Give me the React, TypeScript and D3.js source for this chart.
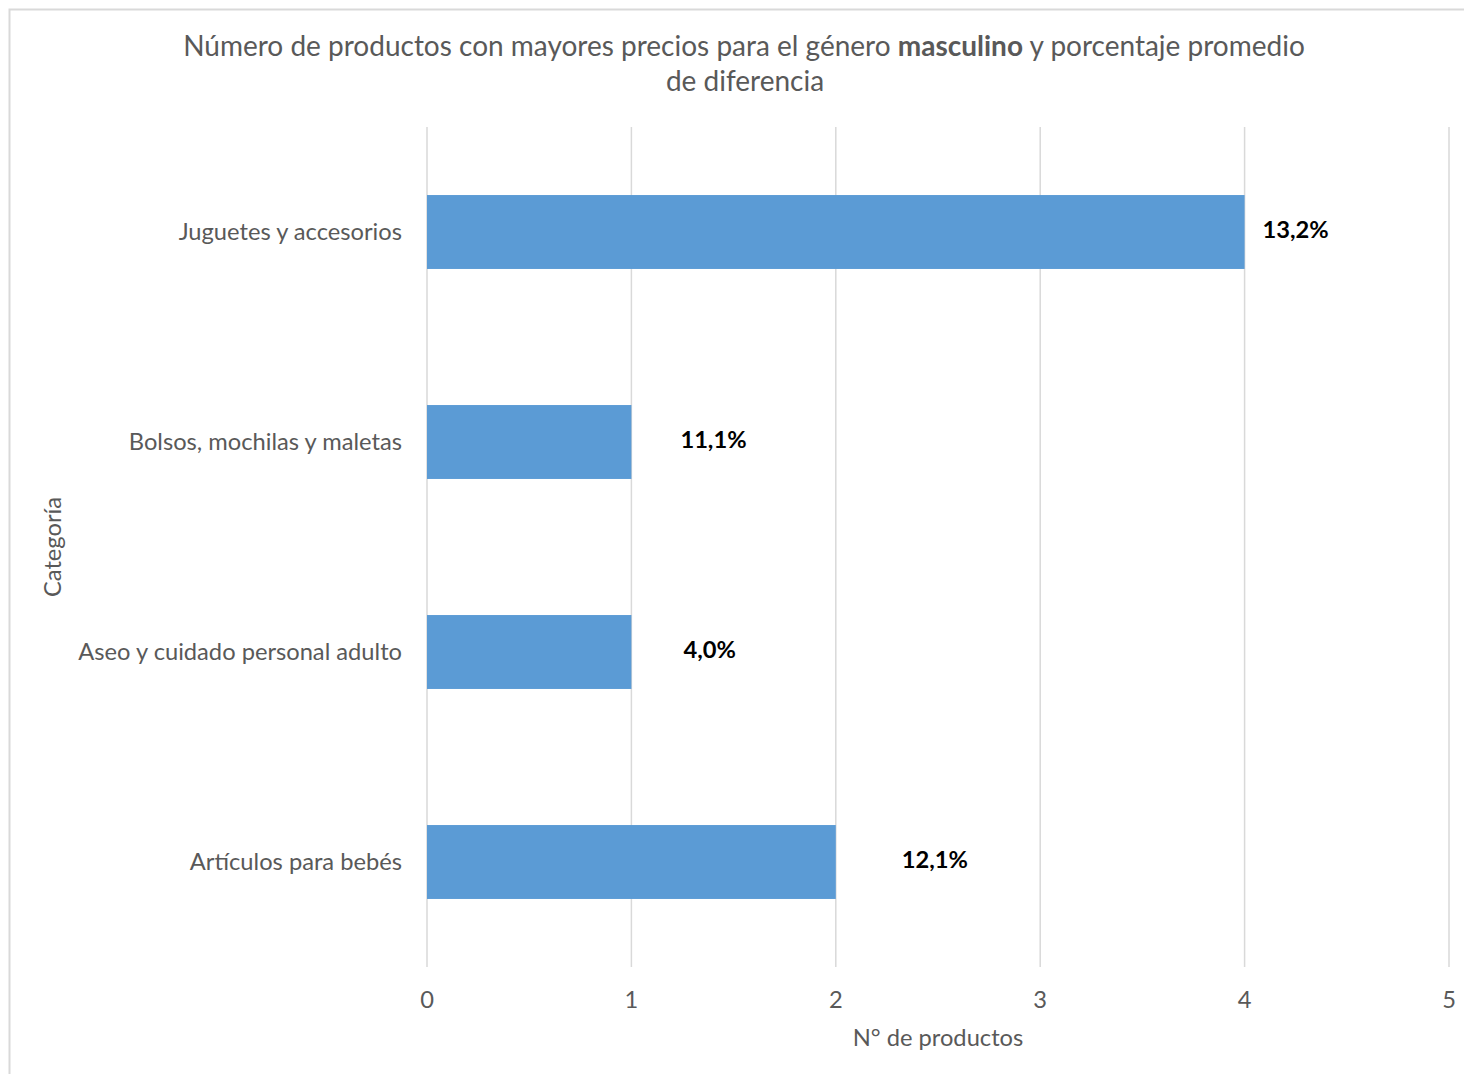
import React from "react";
import * as d3 from "d3";

const categories = [
  "Juguetes y accesorios",
  "Bolsos, mochilas y maletas",
  "Aseo y cuidado personal adulto",
  "Artículos para bebés",
];
const productCounts = [4, 1, 1, 2];
const pctLabels = ["13,2%", "11,1%", "4,0%", "12,1%"];
const xTicks = [0, 1, 2, 3, 4, 5];

// layout: manual label offsets (px past bar end), as placed in the original
const labelNudge = [18, 49, 52, 66];

const W = 1464;
const H = 1074;
const FONT = "Lato, 'Open Sans', sans-serif";
const TEXT = "#595959";
const GRID = "#d9d9d9";
const BAR = "#5b9bd5";
const FS = 23.7;

export default function App() {
  const x = d3.scaleLinear().domain([0, 5]).range([427, 1449]);
  const y = d3
    .scaleBand<string>()
    .domain(categories)
    .range([127, 967])
    .paddingInner(0.648)
    .paddingOuter(0.324);
  const plotTop = 127;
  const plotBottom = 967;

  return (
    <svg
      width={W}
      height={H}
      style={{ position: "absolute", left: 0, top: 0, background: "#fff" }}
      fontFamily={FONT}
    >
      <rect x={9.5} y={9.5} width={W + 20} height={H + 20} fill="#fff" stroke={GRID} strokeWidth={2} />
      <text x={744} y={56} textAnchor="middle" fontSize={28} fill={TEXT}>
        Número de productos con mayores precios para el género{" "}
        <tspan fontWeight="bold">masculino</tspan> y porcentaje promedio
      </text>
      <text x={745} y={91} textAnchor="middle" fontSize={28} fill={TEXT}>
        de diferencia
      </text>

      {xTicks.map((t) => (
        <g key={t}>
          <line x1={x(t)} x2={x(t)} y1={plotTop} y2={plotBottom} stroke={GRID} strokeWidth={1.5} />
          <text x={x(t)} y={1008} textAnchor="middle" fontSize={FS} fill={TEXT}>
            {t}
          </text>
        </g>
      ))}

      {categories.map((c, i) => {
        const y0 = y(c)!;
        const bw = y.bandwidth();
        return (
          <g key={c}>
            <rect x={x(0)} y={y0} width={x(productCounts[i]) - x(0)} height={bw} fill={BAR} />
            <text x={402} y={y0 + bw / 2} dy="0.35em" textAnchor="end" fontSize={FS} fill={TEXT}>
              {c}
            </text>
            <text
              x={x(productCounts[i]) + labelNudge[i]}
              y={y0 + bw / 2 - 2}
              dy="0.35em"
              fontSize={FS}
              fontWeight="bold"
              fill="#000"
            >
              {pctLabels[i]}
            </text>
          </g>
        );
      })}

      <text x={938} y={1046} textAnchor="middle" fontSize={FS} fill={TEXT}>
        N° de productos
      </text>
      <text
        transform={`translate(61,${(plotTop + plotBottom) / 2}) rotate(-90)`}
        textAnchor="middle"
        fontSize={FS}
        fill={TEXT}
      >
        Categoría
      </text>
    </svg>
  );
}
